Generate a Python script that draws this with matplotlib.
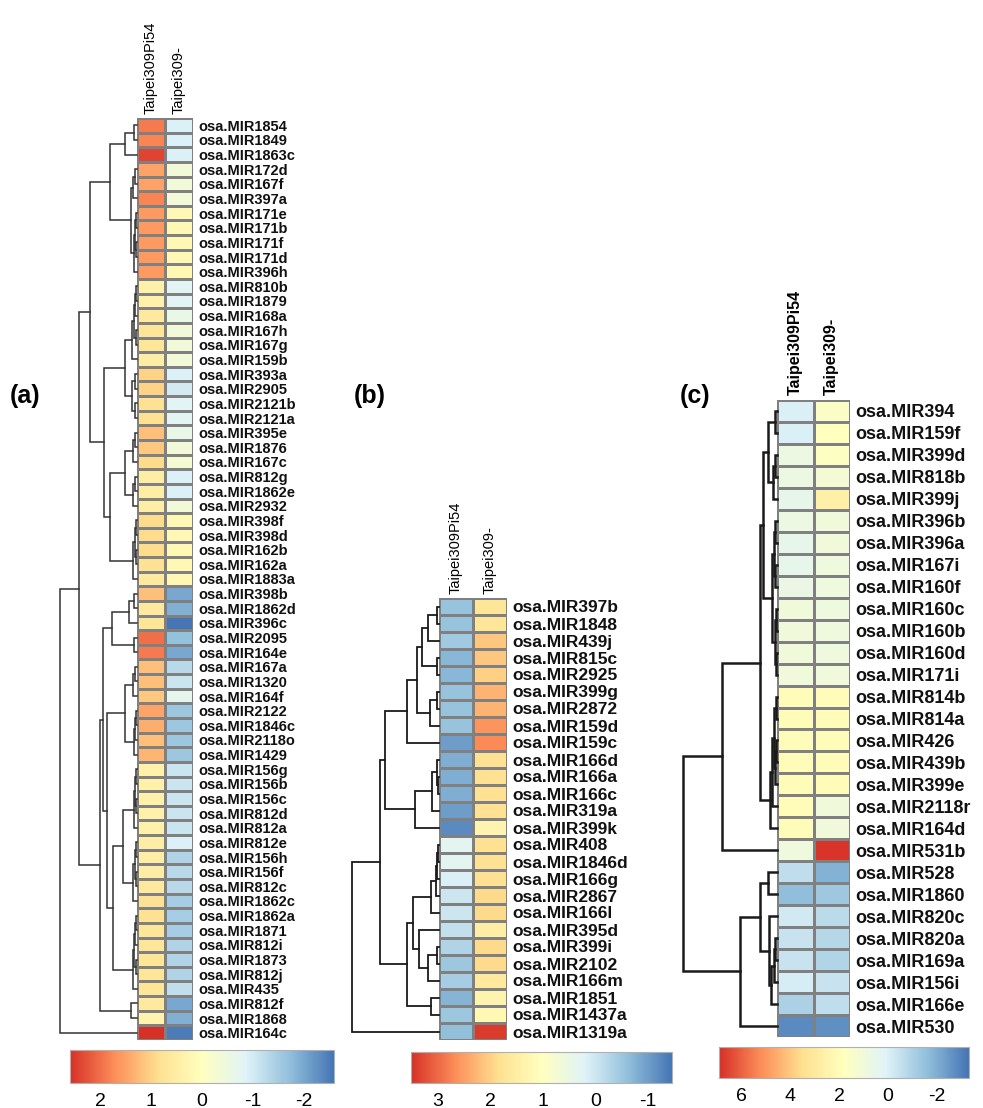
import numpy as np
import matplotlib
matplotlib.use("Agg")
import matplotlib.pyplot as plt
from matplotlib.colors import LinearSegmentedColormap, Normalize
from matplotlib.cm import ScalarMappable

plt.rcParams['font.family'] = ['Liberation Sans', 'DejaVu Sans']

W, H = 983, 1108

# ---------------- data ----------------
samples = ["Taipei309Pi54", "Taipei309-"]

labels_a = ["osa.MIR1854", "osa.MIR1849", "osa.MIR1863c", "osa.MIR172d", "osa.MIR167f",
            "osa.MIR397a", "osa.MIR171e", "osa.MIR171b", "osa.MIR171f", "osa.MIR171d",
            "osa.MIR396h", "osa.MIR810b", "osa.MIR1879", "osa.MIR168a", "osa.MIR167h",
            "osa.MIR167g", "osa.MIR159b", "osa.MIR393a", "osa.MIR2905", "osa.MIR2121b",
            "osa.MIR2121a", "osa.MIR395e", "osa.MIR1876", "osa.MIR167c", "osa.MIR812g",
            "osa.MIR1862e", "osa.MIR2932", "osa.MIR398f", "osa.MIR398d", "osa.MIR162b",
            "osa.MIR162a", "osa.MIR1883a", "osa.MIR398b", "osa.MIR1862d", "osa.MIR396c",
            "osa.MIR2095", "osa.MIR164e", "osa.MIR167a", "osa.MIR1320", "osa.MIR164f",
            "osa.MIR2122", "osa.MIR1846c", "osa.MIR2118o", "osa.MIR1429", "osa.MIR156g",
            "osa.MIR156b", "osa.MIR156c", "osa.MIR812d", "osa.MIR812a", "osa.MIR812e",
            "osa.MIR156h", "osa.MIR156f", "osa.MIR812c", "osa.MIR1862c", "osa.MIR1862a",
            "osa.MIR1871", "osa.MIR812i", "osa.MIR1873", "osa.MIR812j", "osa.MIR435",
            "osa.MIR812f", "osa.MIR1868", "osa.MIR164c"]
pi54_a = [1.9, 1.8, 2.4, 1.5, 1.5, 1.8, 1.6, 1.6, 1.6, 1.6, 1.6,
          0.4, 0.4, 0.6, 0.7, 0.7, 0.5, 1.0, 1.0, 0.8, 0.8, 1.2, 1.1, 0.9,
          0.5, 0.5, 0.5, 0.9, 0.9, 0.9, 0.8, 0.6,
          1.2, 0.6, 0.7, 2.0, 1.9, 1.2, 1.2, 1.1, 1.5, 1.4, 1.2, 1.3,
          0.4, 0.4, 0.4, 0.4, 0.4, 0.5, 0.5, 0.5, 0.6, 0.8, 0.8, 0.7, 0.7, 0.7, 0.7, 0.7,
          0.6, 0.3, 2.6]
ctrl_a = [-0.9, -0.9, -0.9, -0.4, -0.4, -0.4, 0.2, 0.2, 0.2, 0.2, 0.2,
          -0.8, -0.8, -0.6, -0.4, -0.4, -0.4, -0.9, -1.0, -0.8, -0.8, -0.6, -0.4, -0.3,
          -0.9, -0.9, -0.4, 0.2, 0.2, 0.2, 0.2, 0.2,
          -2.0, -1.9, -2.6, -1.7, -2.0, -1.3, -1.1, -0.7, -1.6, -1.6, -1.6, -1.6,
          -1.1, -1.1, -1.1, -1.1, -1.1, -0.9, -1.4, -1.3, -1.3, -1.5, -1.5, -1.5,
          -1.4, -1.4, -1.4, -1.2, -2.0, -1.9, -2.5]

labels_b = ["osa.MIR397b", "osa.MIR1848", "osa.MIR439j", "osa.MIR815c", "osa.MIR2925",
            "osa.MIR399g", "osa.MIR2872", "osa.MIR159d", "osa.MIR159c", "osa.MIR166d",
            "osa.MIR166a", "osa.MIR166c", "osa.MIR319a", "osa.MIR399k", "osa.MIR408",
            "osa.MIR1846d", "osa.MIR166g", "osa.MIR2867", "osa.MIR166l", "osa.MIR395d",
            "osa.MIR399i", "osa.MIR2102", "osa.MIR166m", "osa.MIR1851", "osa.MIR1437a",
            "osa.MIR1319a"]
pi54_b = [-0.55, -0.55, -0.45, -0.7, -0.7, -0.55, -0.55, -0.55, -1.0, -0.8, -0.8, -0.8,
          -1.0, -1.2, 0.3, 0.3, 0.15, 0.0, 0.0, -0.1, -0.3, -0.5, -0.4, -0.75, -0.5, -0.6]
ctrl_b = [1.7, 1.7, 2.1, 2.1, 2.0, 2.3, 2.3, 2.6, 2.7, 1.8, 1.8, 1.8, 1.8, 1.3,
          1.8, 1.8, 1.8, 1.9, 1.9, 1.5, 1.9, 1.9, 1.6, 1.3, 1.2, 3.4]

labels_c = ["osa.MIR394", "osa.MIR159f", "osa.MIR399d", "osa.MIR818b", "osa.MIR399j",
            "osa.MIR396b", "osa.MIR396a", "osa.MIR167i", "osa.MIR160f", "osa.MIR160c",
            "osa.MIR160b", "osa.MIR160d", "osa.MIR171i", "osa.MIR814b", "osa.MIR814a",
            "osa.MIR426", "osa.MIR439b", "osa.MIR399e", "osa.MIR2118r", "osa.MIR164d",
            "osa.MIR531b", "osa.MIR528", "osa.MIR1860", "osa.MIR820c", "osa.MIR820a",
            "osa.MIR169a", "osa.MIR156i", "osa.MIR166e", "osa.MIR530"]
pi54_c = [0.0, 0.0, 0.8, 0.8, 0.5, 0.8, 0.5, 0.5, 0.7, 1.0, 1.0, 1.0, 1.0,
          2.0, 2.0, 2.0, 2.0, 2.0, 2.0, 2.0, 0.9,
          -0.6, -1.6, -0.2, -0.4, -0.4, -0.1, -1.0, -2.8]
ctrl_c = [1.6, 1.8, 1.7, 1.2, 2.6, 1.0, 1.0, 0.9, 0.9, 0.9, 0.9, 0.9, 1.0,
          2.0, 2.0, 2.0, 2.0, 2.0, 1.0, 1.0, 6.8,
          -1.9, -1.3, -0.7, -0.8, -0.9, -0.4, -0.6, -2.7]

# row dendrograms as (left, right, merge height); leaves are row indices
a_c1 = ((0, 1, 3), 2, 12)
a_c2 = (((3, 4, 2), 5, 4), (((6, 7, 1), (8, 9, 1), 2), 10, 3), 6)
a_d1 = ((((11, 12, 1), 13, 2), (14, 15, 1), 3), 16, 5)
a_d2 = ((17, 18, 2), (19, 20, 2), 5)
a_d3 = ((21, 22, 2), 23, 4)
a_d4 = ((24, 25, 2), 26, 4)
a_d5 = (((27, 28, 1), (29, 30, 1), 2), 31, 4)
a_b1 = (((32, 33, 3), 34, 8), (35, 36, 3), 25)
a_b2 = (((37, 38, 2), 39, 4), (((40, 41, 1), 42, 2), 43, 3), 12)
a_b3a = (((44, 45, 1), (46, 47, 1), 2), 48, 3)
a_b3b = (((49, 50, 1), (51, 52, 1), 2), 53, 4)
a_b3c = ((((54, 55, 1), 56, 2), (57, 58, 1), 3), 59, 4)
a_upper = ((a_c1, a_c2, 27), ((a_d1, a_d2, 12), ((a_d3, a_d4, 12), a_d5, 27), 33), 47)
a_lower = ((a_b1, (a_b2, ((a_b3a, a_b3b, 14), a_b3c, 24), 30), 34), (60, 61, 6), 37)
tree_a = ((a_upper, a_lower, 58), 62, 77)

b_p = ((((0, 1, 2), 2, 11), (3, 4, 2), 17), ((5, 6, 2), 7, 9), 22)
b_q = (((9, (10, 11, 1), 2), 12, 7), 13, 24)
b_r1 = ((((14, 15, 1), 16, 2), 17, 3), 18, 8)
b_r2 = (19, ((20, 21, 2), 22, 11), 20)
tree_b = ((((b_p, 8, 32), b_q, 54), ((b_r1, b_r2, 26), (23, 24, 8), 32), 59), 25, 87)

c_e1 = ((0, 1, 2), ((2, 3, 2), 4, 4), 9)
c_e2 = (((5, 6, 2), (7, 8, 2), 3), ((9, 10, 1), (11, 12, 1), 2), 5)
c_f = ((((13, 14, 1), ((15, 16, 1), 17, 2), 3), 18, 5), 19, 7)
c_v = (((21, 22, 9), (23, (((24, 25, 2), 26, 3), 27, 6), 8), 17), 28, 37)
tree_c = ((((c_e1, c_e2, 14), c_f, 17), 20, 55), c_v, 94)

# colour scale limits and colour-key ticks
lims_a = (-2.6, 2.6)
lims_b = (-1.45, 3.5)
lims_c = (-3.3, 6.9)
ticks_a = [2, 1, 0, -1, -2]
ticks_b = [3, 2, 1, 0, -1]
ticks_c = [6, 4, 2, 0, -2]

cmap = LinearSegmentedColormap.from_list(
    "rdylbu", ["#4575B4", "#91BFDB", "#E0F3F8", "#FFFFBF", "#FEE090", "#FC8D59", "#D73027"])


def box(x0, y0, x1, y1):
    return [x0 / W, 1 - y1 / H, (x1 - x0) / W, (y1 - y0) / H]


def draw_tree(ax, node, lw, color):
    if isinstance(node, int):
        return node + 0.5, 0
    left, right, h = node
    y1, h1 = draw_tree(ax, left, lw, color)
    y2, h2 = draw_tree(ax, right, lw, color)
    ax.plot([h1, h, h, h2], [y1, y1, y2, y2], color=color, lw=lw,
            solid_joinstyle="miter", clip_on=False)
    return (y1 + y2) / 2, h


def panel(fig, vals, labels, tree, lims, ticks, hm, lab_fs, col_fs, col_w,
          tree_lw, tree_col, cbar):
    x0, y0, x1, y1 = hm
    n = len(labels)
    data = np.column_stack(vals)
    norm = Normalize(vmin=lims[0], vmax=lims[1])

    ax = fig.add_axes(box(x0, y0, x1, y1))
    ax.pcolormesh(data, cmap=cmap, norm=norm, edgecolors="#808080", linewidth=1.0)
    ax.set_xlim(0, 2)
    ax.set_ylim(n, 0)
    for s in ax.spines.values():
        s.set_visible(False)
    ax.set_xticks([])
    ax.yaxis.tick_right()
    ax.set_yticks(np.arange(n) + 0.5)
    ax.set_yticklabels(labels, fontsize=lab_fs, fontweight="bold", color="#111111")
    ax.tick_params(axis="y", length=0, pad=4)
    for i, s in enumerate(samples):
        ax.text(i + 0.5, -0.25, s, rotation=90, ha="center", va="bottom",
                fontsize=col_fs, fontweight=col_w)

    root_h = tree[2]
    dax = fig.add_axes(box(x0 - root_h, y0, x0, y1))
    draw_tree(dax, tree, tree_lw, tree_col)
    dax.set_xlim(root_h, 0)
    dax.set_ylim(n, 0)
    dax.axis("off")

    # colour key, high values on the left
    cax = fig.add_axes(box(*cbar))
    cb = fig.colorbar(ScalarMappable(norm=norm, cmap=cmap), cax=cax, orientation="horizontal")
    cax.invert_xaxis()
    cb.set_ticks(ticks)
    cb.set_ticklabels([str(t) for t in ticks])
    cax.tick_params(length=0, labelsize=14, pad=7)
    cb.outline.set_edgecolor("#b0b0b0")
    cb.outline.set_linewidth(0.8)


fig = plt.figure(figsize=(W / 100, H / 100), dpi=100)

panel(fig, [pi54_a, ctrl_a], labels_a, tree_a, lims_a, ticks_a,
      (137, 118, 193, 1040), 10.5, 10.5, "normal", 1.1, "#333333",
      (70, 1050, 334, 1083))
panel(fig, [pi54_b, ctrl_b], labels_b, tree_b, lims_b, ticks_b,
      (439, 598, 507, 1040), 12.5, 10.5, "normal", 1.3, "#1a1a1a",
      (411, 1052, 672, 1083))
panel(fig, [pi54_c, ctrl_c], labels_c, tree_c, lims_c, ticks_c,
      (777, 400, 850, 1037), 13, 11.5, "bold", 1.8, "#1a1a1a",
      (719, 1047, 969, 1078))

for txt, x in [("(a)", 10), ("(b)", 354), ("(c)", 680)]:
    fig.text(x / W, 1 - 396 / H, txt, fontsize=18, fontweight="bold", va="center")

fig.savefig("out.png", dpi=100)
